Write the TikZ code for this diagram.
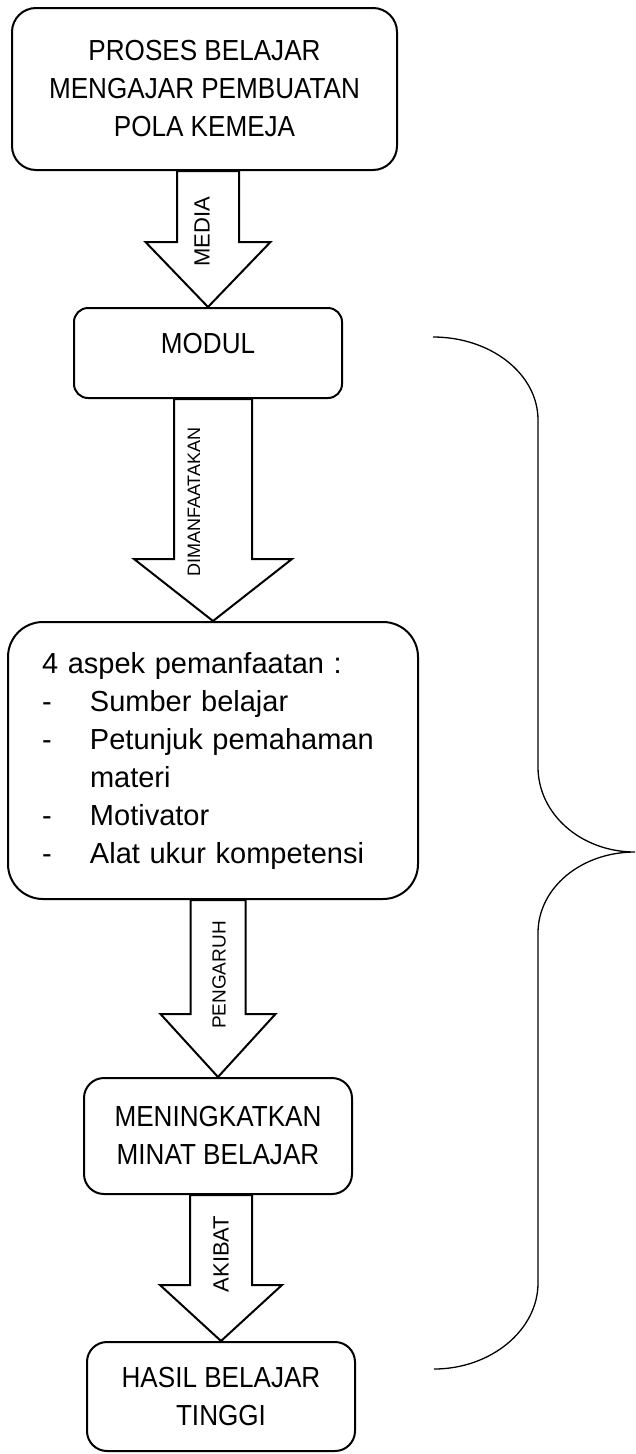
\documentclass[tikz,border=0pt]{standalone}
\usepackage{fontspec}
\setmainfont{Liberation Sans}
\newfontfamily\boxfont[FakeStretch=0.9]{Liberation Sans}
\usetikzlibrary{calc}

\tikzset{
  box/.style={draw, line width=2pt, align=center, inner sep=0pt, font=\boxfont\fontsize{29}{38}\selectfont},
  flowarrow/.style={draw, line width=2pt, fill=white, line join=miter},
  arrowlabel/.style={rotate=90, inner sep=0pt},
  brace/.style={draw, line width=1.3pt}
}

% block arrow from the bottom of #1 to the top of #2
% #3 half shaft, #4 half head, #5 head length
\newcommand{\bigarrow}[5]{%
  \draw[flowarrow] let \p1=(#1.south), \p2=(#2.north) in
    (\x2-#3,\y1) -- (\x2-#3,\y2+#5) -- (\x2-#4,\y2+#5) -- (\p2)
    -- (\x2+#4,\y2+#5) -- (\x2+#3,\y2+#5) -- (\x2+#3,\y1) -- cycle;}

\begin{document}
\begin{tikzpicture}[x=1pt, y=-1pt]
\useasboundingbox (0,0) rectangle (635,1454);

% Boxes
\node[box, rounded corners=24pt, minimum width=385pt, minimum height=162pt] (proses) at (204.5,89) {PROSES BELAJAR\\MENGAJAR PEMBUATAN\\POLA KEMEJA};
\node[box, rounded corners=14pt, minimum width=268pt, minimum height=90pt, text depth=20pt] (modul) at (208,353) {MODUL};
\node[box, rounded corners=35pt, minimum width=410pt, minimum height=277pt, text width=342pt, align=left, font=\fontsize{29}{38}\selectfont] (aspek) at (213,760.5) {4 aspek pemanfaatan :\\
\makebox[48pt][l]{-}Sumber belajar\\
\makebox[48pt][l]{-}Petunjuk pemahaman\\
\hspace*{48pt}materi\\
\makebox[48pt][l]{-}Motivator\\
\makebox[48pt][l]{-}Alat ukur kompetensi};
\node[box, rounded corners=20pt, minimum width=268pt, minimum height=116pt] (minat) at (218,1136) {MENINGKATKAN\\MINAT BELAJAR};
\node[box, rounded corners=20pt, minimum width=268pt, minimum height=109pt] (hasil) at (221,1396.5) {HASIL BELAJAR\\TINGGI};

% Arrows
\bigarrow{proses}{modul}{31pt}{62.5pt}{65pt}
\bigarrow{modul}{aspek}{39pt}{79pt}{62pt}
\bigarrow{aspek}{minat}{27.5pt}{57.5pt}{63pt}
\bigarrow{minat}{hasil}{31pt}{61pt}{56pt}

% Arrow labels
\node[arrowlabel, font=\fontsize{22}{26}\selectfont] (lblmedia) at (202,232) {MEDIA};
\node[arrowlabel, font=\fontsize{18}{22}\selectfont] (lbldimanfaat) at (194,502) {DIMANFAATAKAN};
\node[arrowlabel, font=\fontsize{19}{23}\selectfont] (lblpengaruh) at (219,975) {PENGARUH};
\node[arrowlabel, font=\fontsize{22}{26}\selectfont] (lblakibat) at (221,1254) {AKIBAT};

% Bracket
\draw[brace] (433,337) .. controls (491,337) and (538,374) .. (538,420) -- (538,767)
  .. controls (538,814) and (581,852) .. (635,852)
  .. controls (581,852) and (538,888) .. (538,933) -- (538,1283)
  .. controls (538,1330) and (491,1369) .. (434,1369);

\end{tikzpicture}
\end{document}
